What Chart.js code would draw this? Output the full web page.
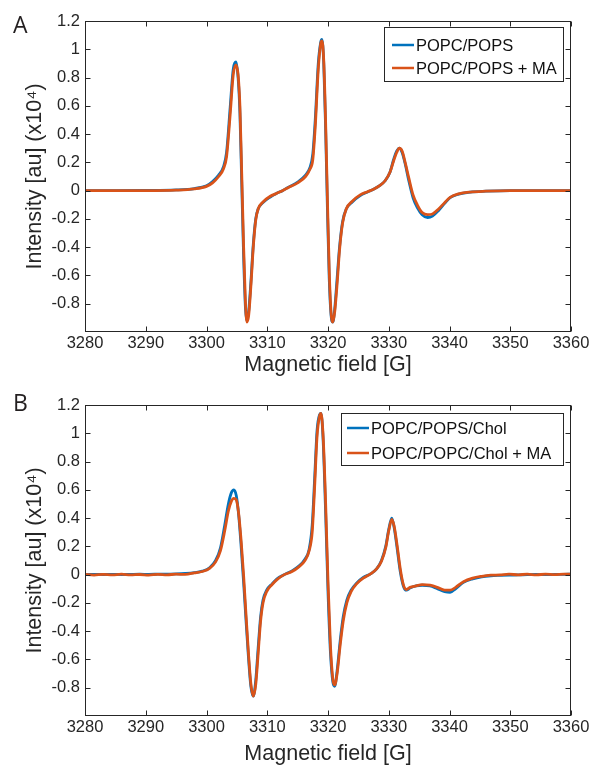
<!DOCTYPE html>
<html><head><meta charset="utf-8">
<script src="https://cdn.jsdelivr.net/npm/chart.js@4.4.1/dist/chart.umd.min.js"></script>
<style>
html,body{margin:0;padding:0;background:#fff;}
#wrap{position:relative;width:593px;height:770px;overflow:hidden;background:#fff;}
canvas{position:absolute;left:0;}
.panel{position:absolute;font-family:'Open Sans','Noto Sans',sans-serif;font-size:23px;color:#231f20;line-height:1;}
</style></head><body>
<div id="wrap">
<canvas id="cA" width="593" height="385" style="top:0px"></canvas>
<canvas id="cB" width="593" height="385" style="top:385px"></canvas>
<div class="panel" style="left:13px;top:13px">A</div>
<div class="panel" style="left:13px;top:391px">B</div>
</div>
<script>
// ---- Data ----
const xTicks = [3280, 3290, 3300, 3310, 3320, 3330, 3340, 3350, 3360];
const yTicks = [-0.8, -0.6, -0.4, -0.2, 0, 0.2, 0.4, 0.6, 0.8, 1, 1.2];

const labelsA = ['POPC/POPS', 'POPC/POPS + MA'];
const fieldA = [
  3280, 3285, 3290, 3295, 3298, 3300, 3301, 3302, 3302.8, 3303.3,
  3303.9, 3304.4, 3304.85, 3305.2, 3305.5, 3305.8, 3306.1, 3306.4, 3306.65, 3306.95,
  3307.3, 3307.7, 3308.1, 3308.5, 3309.3, 3310.5, 3311.5, 3312.5, 3313.5, 3315,
  3316.3, 3317.0, 3317.5, 3317.9, 3318.4, 3318.8, 3319.0, 3319.3, 3319.6, 3319.9,
  3320.2, 3320.5, 3320.8, 3321.1, 3321.5, 3321.9, 3322.4, 3323, 3324, 3325.3,
  3326.5, 3327.5, 3328.5, 3329.4, 3330.2, 3330.8, 3331.3, 3331.75, 3332.2, 3332.7,
  3333.3, 3334.0, 3334.7, 3335.5, 3336.4, 3337.2, 3338.2, 3339.2, 3340.1, 3341.5,
  3343.4, 3346, 3350, 3355, 3360
];
const popcPops = [
  0, 0, 0.001, 0.005, 0.015, 0.035, 0.065, 0.11, 0.17, 0.27,
  0.59, 0.86, 0.91, 0.80, 0.55, 0.05, -0.45, -0.82, -0.92, -0.85,
  -0.65, -0.38, -0.20, -0.13, -0.085, -0.045, -0.02, 0.0, 0.025, 0.06,
  0.11, 0.16, 0.26, 0.50, 0.90, 1.05, 1.07, 0.90, 0.45, -0.12,
  -0.62, -0.88, -0.93, -0.84, -0.62, -0.40, -0.22, -0.13, -0.08, -0.035,
  -0.01, 0.01, 0.035, 0.07, 0.13, 0.22, 0.28, 0.30, 0.27, 0.19,
  0.07, -0.05, -0.12, -0.17, -0.19, -0.18, -0.14, -0.09, -0.05, -0.025,
  -0.01, -0.004, 0, 0, 0
];
const popcPopsMA = [
  0, 0, 0, 0.003, 0.012, 0.03, 0.055, 0.10, 0.155, 0.24,
  0.54, 0.82, 0.89, 0.82, 0.60, 0.12, -0.38, -0.78, -0.93, -0.88,
  -0.68, -0.40, -0.21, -0.13, -0.08, -0.04, -0.02, 0.0, 0.022, 0.055,
  0.10, 0.15, 0.22, 0.45, 0.86, 1.04, 1.06, 0.92, 0.50, -0.05,
  -0.56, -0.86, -0.93, -0.86, -0.66, -0.42, -0.23, -0.13, -0.075, -0.03,
  -0.008, 0.01, 0.035, 0.07, 0.13, 0.21, 0.27, 0.30, 0.28, 0.20,
  0.09, -0.03, -0.10, -0.155, -0.17, -0.165, -0.13, -0.085, -0.048, -0.023,
  -0.01, -0.004, 0, 0, 0
];

const labelsB = ['POPC/POPS/Chol', 'POPC/POPC/Chol + MA'];
const fieldB = [
  3280, 3281.5, 3283, 3284.5, 3286, 3287.5, 3289, 3290.5, 3292, 3293.5,
  3295, 3296.5, 3298, 3299.3, 3300.5, 3301.5, 3302.3, 3303.0, 3303.6, 3304.1,
  3304.5, 3304.9, 3305.3, 3305.7, 3306.1, 3306.5, 3306.9, 3307.3, 3307.7, 3308.1,
  3308.5, 3308.9, 3309.3, 3309.9, 3310.8, 3311.6, 3312.8, 3314, 3315.2, 3316.2,
  3316.9, 3317.4, 3317.8, 3318.2, 3318.6, 3318.85, 3319.2, 3319.6, 3320.0, 3320.4,
  3320.8, 3321.1, 3321.5, 3322.0, 3322.5, 3323.1, 3323.8, 3324.7, 3325.8, 3327,
  3328, 3328.8, 3329.5, 3330.0, 3330.5, 3330.9, 3331.4, 3331.9, 3332.4, 3332.9,
  3333.5, 3334.5, 3335.5, 3336.8, 3338, 3339.2, 3340.1, 3341, 3342.3, 3343.8,
  3345.3, 3346.8, 3348.3, 3349.8, 3351.3, 3352.8, 3354.3, 3355.8, 3357.3, 3358.8, 3360
];
const popcPopsChol = [
  0, 0.002, 0.001, 0.002, 0.001, 0.002, 0.003, 0.002, 0.003, 0.004,
  0.005, 0.008, 0.014, 0.025, 0.048, 0.10, 0.19, 0.35, 0.50, 0.58,
  0.60, 0.56, 0.42, 0.20, -0.05, -0.32, -0.58, -0.79, -0.86, -0.75,
  -0.52, -0.30, -0.18, -0.11, -0.065, -0.03, 0.0, 0.025, 0.06, 0.11,
  0.18, 0.35, 0.68, 1.02, 1.13, 1.14, 0.95, 0.45, -0.12, -0.55,
  -0.76, -0.79, -0.68, -0.47, -0.30, -0.18, -0.11, -0.06, -0.02, 0.005,
  0.04, 0.10, 0.20, 0.32, 0.40, 0.33, 0.18, 0.02, -0.08, -0.11,
  -0.095, -0.08, -0.075, -0.08, -0.10, -0.12, -0.125, -0.10, -0.055, -0.03,
  -0.015, -0.008, -0.005, -0.003, -0.002, 0.0, 0.001, 0.0, 0.001, 0.002, 0.003
];
const popcPopcCholMA = [
  0.002, -0.003, 0.002, -0.002, 0.003, -0.002, 0.001, -0.003, 0.002, -0.001,
  0.003, 0.002, 0.012, 0.022, 0.044, 0.09, 0.17, 0.31, 0.45, 0.52,
  0.54, 0.53, 0.43, 0.24, 0.0, -0.28, -0.55, -0.77, -0.86, -0.78,
  -0.56, -0.33, -0.20, -0.12, -0.07, -0.035, 0.0, 0.02, 0.055, 0.10,
  0.17, 0.30, 0.62, 0.98, 1.12, 1.14, 0.98, 0.52, -0.05, -0.50,
  -0.74, -0.78, -0.70, -0.50, -0.33, -0.20, -0.12, -0.065, -0.025, 0.005,
  0.04, 0.095, 0.19, 0.31, 0.39, 0.34, 0.20, 0.04, -0.07, -0.105,
  -0.09, -0.08, -0.07, -0.075, -0.09, -0.11, -0.11, -0.09, -0.05, -0.025,
  -0.012, -0.004, -0.002, 0.003, -0.001, 0.003, -0.002, 0.004, 0.0, 0.004, 0.003
];

// ---- Styling ----
const BLUE = '#0072BD', ORANGE = '#D95319', INK = '#262626';
const FONT = "'Liberation Sans', Arial, Helvetica, sans-serif";
Chart.defaults.font.family = FONT;
Chart.defaults.color = INK;

const framePlugin = {
  id: 'frame',
  afterDraw(chart) {
    const {ctx, chartArea: a, scales: {x, y}} = chart;
    ctx.save();
    ctx.strokeStyle = INK; ctx.lineWidth = 1;
    const L = Math.round(a.left) + 0.5, R = Math.round(a.right) - 0.5;
    const T = Math.round(a.top) + 0.5, B = Math.round(a.bottom) - 0.5;
    ctx.strokeRect(L, T, R - L, B - T);
    const tl = 5;
    ctx.beginPath();
    xTicks.forEach(v => {
      const px = Math.round(x.getPixelForValue(v)) + 0.5;
      ctx.moveTo(px, B); ctx.lineTo(px, B - tl);
      ctx.moveTo(px, T); ctx.lineTo(px, T + tl);
    });
    yTicks.forEach(v => {
      const py = Math.round(y.getPixelForValue(v)) + 0.5;
      ctx.moveTo(L, py); ctx.lineTo(L + tl, py);
      ctx.moveTo(R, py); ctx.lineTo(R - tl, py);
    });
    ctx.stroke();
    // legend
    const lg = chart.options.plugins.boxLegend;
    if (lg) {
      ctx.fillStyle = '#fff';
      ctx.fillRect(lg.x0, lg.y0, lg.x1 - lg.x0, lg.y1 - lg.y0);
      ctx.strokeStyle = INK; ctx.lineWidth = 1;
      ctx.strokeRect(lg.x0 + 0.5, lg.y0 + 0.5, lg.x1 - lg.x0 - 1, lg.y1 - lg.y0 - 1);
      ctx.font = lg.fontSize + 'px ' + FONT;
      ctx.textBaseline = 'middle';
      ctx.textAlign = 'left';
      chart.data.datasets.forEach((ds, i) => {
        const ry = lg.rows[i];
        ctx.strokeStyle = ds.borderColor; ctx.lineWidth = 2.5;
        ctx.beginPath(); ctx.moveTo(lg.lineX0, ry); ctx.lineTo(lg.lineX1, ry); ctx.stroke();
        ctx.fillStyle = '#111';
        ctx.fillText(ds.label, lg.textX, ry + 1);
      });
    }
    ctx.restore();
  }
};

function makeChart(id, field, s1, s2, labels, o) {
  const pts = arr => field.map((g, i) => ({x: g, y: arr[i]}));
  return new Chart(document.getElementById(id), {
    type: 'line',
    data: {
      datasets: [
        {label: labels[0], data: pts(s1), borderColor: BLUE, borderWidth: 2.8, pointRadius: 0,
         cubicInterpolationMode: 'monotone', order: 1, fill: false},
        {label: labels[1], data: pts(s2), borderColor: ORANGE, borderWidth: 2.8, pointRadius: 0,
         cubicInterpolationMode: 'monotone', order: 0, fill: false}
      ]
    },
    options: {
      responsive: false, animation: false, devicePixelRatio: 1,
      layout: {padding: {top: o.padTop, right: 22, left: 0, bottom: 0}},
      plugins: {legend: {display: false}, tooltip: {enabled: false}, boxLegend: o.legend},
      scales: {
        x: {
          type: 'linear', min: 3280, max: 3360,
          afterBuildTicks: ax => { ax.ticks = xTicks.map(v => ({value: v})); },
          ticks: {padding: 2, font: {size: 16.5}, color: INK, maxRotation: 0, callback: v => String(v)},
          grid: {display: false, drawTicks: false}, border: {display: false},
          title: {display: true, text: 'Magnetic field [G]', font: {size: 21.5}, color: INK,
                  padding: {top: 0, bottom: o.titlePadBottom}},
          afterFit: ax => { ax.height = o.xHeight; }
        },
        y: {
          type: 'linear', min: -1, max: 1.2,
          afterBuildTicks: ax => { ax.ticks = yTicks.map(v => ({value: v})); },
          ticks: {padding: 5, font: {size: 16.5}, color: INK,
                  callback: v => String(Math.round(v * 10) / 10)},
          grid: {display: false, drawTicks: false}, border: {display: false},
          title: {display: true, text: 'Intensity [au] (x10\u2074)', font: {size: 21.5}, color: INK,
                  padding: {top: 22, bottom: 0}},
          afterFit: ax => { ax.width = 85; }
        }
      }
    },
    plugins: [framePlugin]
  });
}

makeChart('cA', fieldA, popcPops, popcPopsMA, labelsA, {
  padTop: 21, xHeight: 53, titlePadBottom: 7,
  legend: {x0: 384, y0: 27, x1: 564, y1: 82, rows: [45, 68], lineX0: 392, lineX1: 414, textX: 416, fontSize: 16.5}
});
makeChart('cB', fieldB, popcPopsChol, popcPopcCholMA, labelsB, {
  padTop: 20, xHeight: 54, titlePadBottom: 3,
  legend: {x0: 341, y0: 28, x1: 564, y1: 81, rows: [43, 68], lineX0: 347, lineX1: 369, textX: 371, fontSize: 16.5}
});
</script>
</body></html>
